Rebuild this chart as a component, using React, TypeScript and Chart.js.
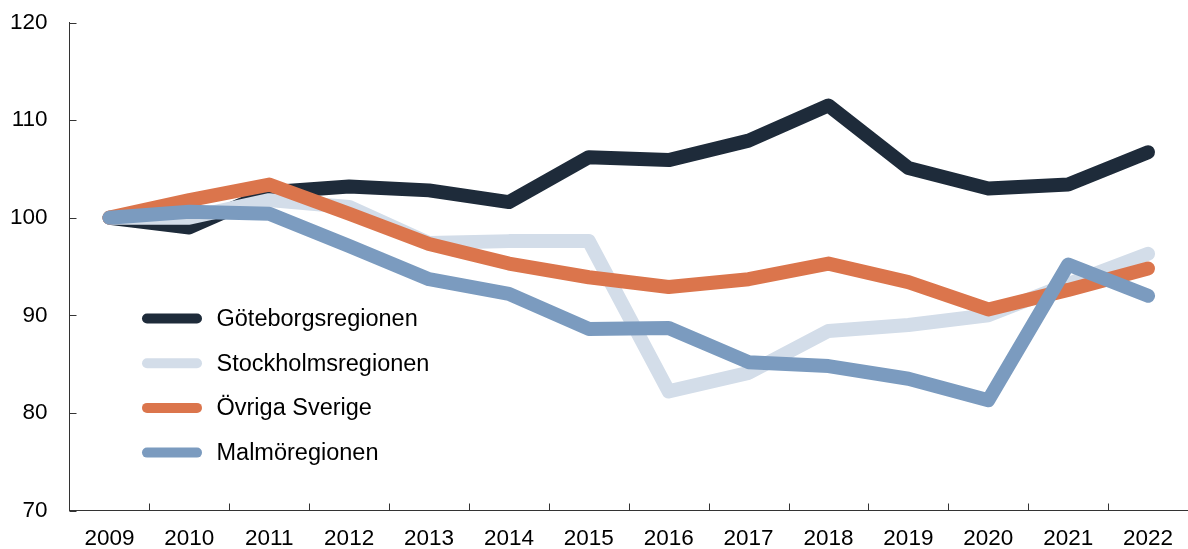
import React, { useEffect, useRef } from "react";
import { Chart, registerables } from "chart.js";

Chart.register(...registerables);

const years = ["2009", "2010", "2011", "2012", "2013", "2014", "2015", "2016", "2017", "2018", "2019", "2020", "2021", "2022"];
const goteborg = [100, 99.0, 102.6, 103.2, 102.8, 101.6, 106.2, 105.9, 107.9, 111.5, 105.1, 103.0, 103.4, 106.7];
const stockholm = [100, 100.0, 101.8, 101.1, 97.4, 97.6, 97.6, 82.2, 84.1, 88.4, 89.0, 90.0, 93.2, 96.3];
const ovriga = [100, 101.8, 103.4, 100.4, 97.3, 95.3, 93.9, 92.9, 93.7, 95.3, 93.4, 90.6, 92.6, 94.8];
const malmo = [100, 100.6, 100.4, 97.1, 93.7, 92.2, 88.6, 88.7, 85.2, 84.8, 83.5, 81.3, 95.2, 92.0];
const seriesNames = ["Göteborgsregionen", "Stockholmsregionen", "Övriga Sverige", "Malmöregionen"];
const seriesColors = ["#1e2b3a", "#d3dde9", "#db754c", "#7b9bbf"];
const yTicks = [70, 80, 90, 100, 110, 120];

const FONT = "'Liberation Sans', Arial, sans-serif";

const tickMarks = {
  id: "tickMarks",
  afterDraw(chart: any) {
    const ctx = chart.ctx;
    const { left, bottom } = chart.chartArea;
    const x = chart.scales.x;
    const y = chart.scales.y;
    ctx.save();
    ctx.strokeStyle = "#333";
    ctx.lineWidth = 1;
    ctx.beginPath();
    for (const v of yTicks) {
      const py = Math.round(y.getPixelForValue(v)) + 0.5;
      ctx.moveTo(left, py);
      ctx.lineTo(left + 7, py);
    }
    for (let i = 1; i < years.length; i++) {
      const px = Math.round((x.getPixelForValue(i - 1) + x.getPixelForValue(i)) / 2) + 0.5;
      ctx.moveTo(px, bottom);
      ctx.lineTo(px, bottom - 7);
    }
    ctx.stroke();
    ctx.restore();
  },
};

const insideLegend = {
  id: "insideLegend",
  afterDraw(chart: any) {
    const ctx = chart.ctx;
    ctx.save();
    const startY = 318.5;
    const gap = 44.7;
    seriesNames.forEach((name, i) => {
      const yy = startY + i * gap;
      ctx.strokeStyle = seriesColors[i];
      ctx.lineWidth = 10;
      ctx.lineCap = "round";
      ctx.beginPath();
      ctx.moveTo(147, yy);
      ctx.lineTo(197, yy);
      ctx.stroke();
      ctx.fillStyle = "#000";
      ctx.font = `23.5px ${FONT}`;
      ctx.textAlign = "left";
      ctx.textBaseline = "middle";
      ctx.fillText(name, 216.5, yy + 1);
    });
    ctx.restore();
  },
};

export default function App() {
  const ref = useRef<HTMLCanvasElement>(null);
  useEffect(() => {
    document.body.style.margin = "0";
    const mk = (label: string, data: number[], color: string, order: number) => ({
      label,
      data,
      borderColor: color,
      backgroundColor: color,
      borderWidth: 14,
      pointRadius: 0,
      borderCapStyle: "round" as const,
      borderJoinStyle: "round" as const,
      tension: 0,
      order,
    });
    const chart = new Chart(ref.current!, {
      type: "line",
      data: {
        labels: years,
        datasets: [
          mk(seriesNames[0], goteborg, seriesColors[0], 4),
          mk(seriesNames[1], stockholm, seriesColors[1], 3),
          mk(seriesNames[2], ovriga, seriesColors[2], 2),
          mk(seriesNames[3], malmo, seriesColors[3], 1),
        ],
      },
      options: {
        animation: false,
        responsive: false,
        layout: { padding: { top: 22.5, right: 0, left: 0, bottom: 0 } },
        plugins: { legend: { display: false }, tooltip: { enabled: false } },
        scales: {
          x: {
            type: "category",
            offset: true,
            grid: { display: true, drawOnChartArea: false, drawTicks: false, offset: true },
            border: { display: true, color: "#333", width: 1 },
            ticks: { color: "#000", font: { family: FONT, size: 22.5 }, padding: 15, maxRotation: 0, autoSkip: false },
            afterFit: (s: any) => { s.height = 38.5; s.paddingLeft = 0; s.paddingRight = 0; },
          },
          y: {
            min: 70,
            max: 120,
            grid: { display: true, drawOnChartArea: false, drawTicks: false },
            border: { display: true, color: "#333", width: 1 },
            ticks: { stepSize: 10, color: "#000", font: { family: FONT, size: 22.5 }, padding: 22 },
            afterFit: (s: any) => { s.width = 69.5; s.paddingTop = 0; s.paddingBottom = 0; },
          },
        },
      },
      plugins: [tickMarks, insideLegend],
    });
    return () => chart.destroy();
  }, []);
  return (
    <div style={{ width: 1188, height: 549 }}>
      <canvas ref={ref} width={1188} height={549} style={{ display: "block" }} />
    </div>
  );
}
